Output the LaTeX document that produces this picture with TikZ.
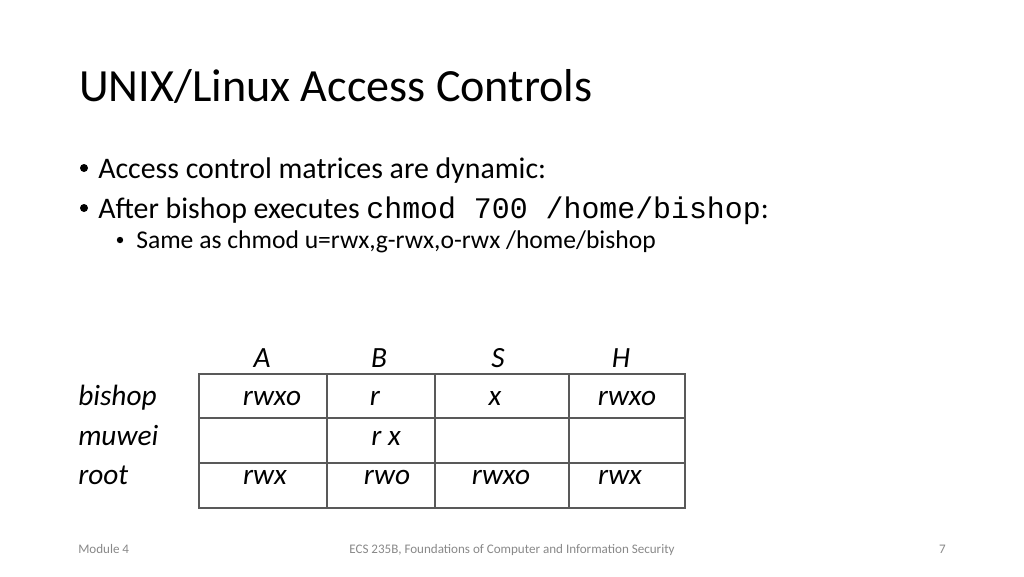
\documentclass[tikz,border=0pt]{standalone}
\usepackage{fontspec}
\setmainfont{Carlito}
\setmonofont{Liberation Mono}
\usetikzlibrary{positioning}

\definecolor{footgray}{HTML}{898989}
\tikzset{
  lbl/.style={anchor=base, inner sep=0pt, font=\fontsize{22}{26}\selectfont\itshape},
  bodytext/.style={anchor=base west, inner sep=0pt, font=\fontsize{22.4}{26}\selectfont},
  subtext/.style={anchor=base west, inner sep=0pt, font=\fontsize{19.2}{22}\selectfont},
  foot/.style={anchor=base, inner sep=0pt, text=footgray, font=\fontsize{9.8}{12}\selectfont},
}

\begin{document}
\begin{tikzpicture}[x=0.75pt, y=-0.75pt]
\useasboundingbox[fill=white] (0,0) rectangle (1024,576);

% title and bullets
\node[anchor=base west, inner sep=0pt, font=\fontsize{34.6}{40}\selectfont] (title) at (79,101)
    {UNIX/Linux Access Controls};
\node[bodytext] (b1) at (98,178) {Access control matrices are dynamic:};
\fill ([xshift=-10.5pt, yshift=7.5pt]b1.base west) circle[radius=3pt];
\node[bodytext] (b2) at (98,218)
    {After bishop executes {\ttfamily chmod 700 /home/bishop}:};
\fill ([xshift=-10.5pt, yshift=7.5pt]b2.base west) circle[radius=3pt];
\node[subtext] (b3) at (136,248)
    {Same as chmod u=rwx,g-rwx,o-rwx /home/bishop};
\fill ([xshift=-12pt, yshift=6pt]b3.base west) circle[radius=2.4pt];

% matrix grid
\draw[gray!70!black, line width=0.8pt] (199,374) rectangle (685,508);
\foreach \gx in {327,435,569}
  \draw[gray!70!black, line width=0.8pt] (\gx,374) -- (\gx,508);
\foreach \gy in {418,463}
  \draw[gray!70!black, line width=0.8pt] (199,\gy) -- (685,\gy);

% column heads
\node[lbl] (hA) at (262,367) {A};
\node[lbl] (hB) at (379,367) {B};
\node[lbl] (hS) at (498,367) {S};
\node[lbl] (hH) at (621,367) {H};

% row heads
\node[lbl, anchor=base west] (rbishop) at (78,405) {bishop};
\node[lbl, anchor=base west] (rmuwei) at (78,445) {muwei};
\node[lbl, anchor=base west] (rroot) at (78,484) {root};

% entries
\node[lbl] (bA) at (272,405) {rwxo};
\node[lbl] (bB) at (375,405) {r};
\node[lbl] (bS) at (495,405) {x};
\node[lbl] (bH) at (627,405) {rwxo};
\node[lbl] (mB) at (386,445) {r x};
\node[lbl] (oA) at (265,484) {rwx};
\node[lbl] (oB) at (387,484) {rwo};
\node[lbl] (oS) at (501,484) {rwxo};
\node[lbl] (oH) at (620,484) {rwx};

% footer
\node[foot, anchor=base west] (fl) at (78,553) {Module 4};
\node[foot] (fc) at (512,553) {ECS 235B, Foundations of Computer and Information Security};
\node[foot, anchor=base east] (fr) at (946,553) {7};
\end{tikzpicture}
\end{document}
